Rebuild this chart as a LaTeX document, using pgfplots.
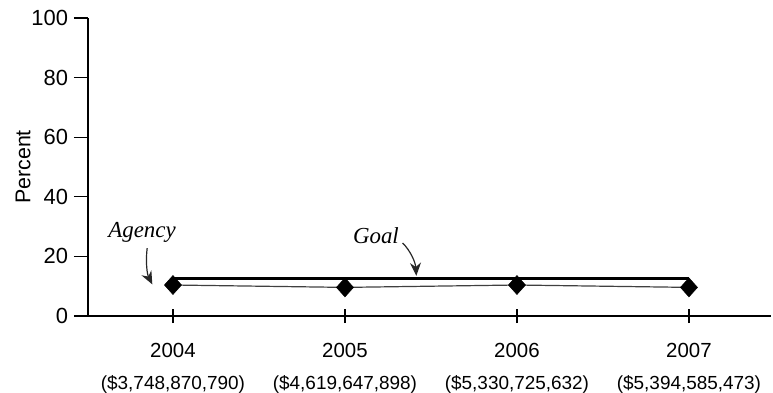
\documentclass[border=0pt]{standalone}
\usepackage{pgfplots}
\pgfplotsset{compat=1.18}
\usepackage{fontspec}
\setmainfont{Liberation Sans}
\newfontfamily\timesfont{Liberation Serif}
\usetikzlibrary{arrows.meta}
\begin{document}
\begin{tikzpicture}
\begin{axis}[
  at={(0,0)}, anchor=south west,
  scale only axis,
  width=683bp, height=298bp,
  xmin=-0.494, xmax=3.477,
  ymin=0, ymax=100,
  axis x line=bottom, axis y line=left,
  axis line style={-, line width=1.5bp, black},
  every tick/.style={black, line width=1.3bp},
  tick align=center,
  major tick length=14bp,
  ytick style={xshift=-7bp},
  xtick={0,1,2,3},
  xticklabels={
    {2004\\{\fontsize{19}{32}\selectfont(\$3,748,870,790)}},
    {2005\\{\fontsize{19}{32}\selectfont(\$4,619,647,898)}},
    {2006\\{\fontsize{19}{32}\selectfont(\$5,330,725,632)}},
    {2007\\{\fontsize{19}{32}\selectfont(\$5,394,585,473)}}},
  xticklabel style={align=center, font=\fontsize{20.5}{32}\selectfont, yshift=-17bp},
  ytick={0,20,40,60,80,100},
  yticklabel style={font=\fontsize{22}{25}\selectfont, xshift=-9.5bp},
  /pgf/number format/assume math mode=true,
  ylabel={Percent},
  ylabel style={font=\fontsize{21.5}{25}\selectfont, yshift=-6bp},
  clip=false,
]
\addplot[black, line width=2.8bp] coordinates {(0,12.6) (1,12.6) (2,12.6) (3,12.6)};
\addplot[black!75, line width=1.2bp, mark=diamond*, mark size=9.5bp,
  mark options={fill=black, draw=black, line width=0.5bp, xscale=1.2}]
  coordinates {(0,10.4) (1,9.6) (2,10.4) (3,9.6)};
\node[font=\timesfont\itshape\fontsize{23}{26}\selectfont] at (axis cs:-0.18,28.2) {Agency};
\node[font=\timesfont\itshape\fontsize{23}{26}\selectfont] at (axis cs:1.18,26.8) {Goal};
\draw[black!85, line width=1.2bp, -{Stealth[length=13bp,width=11bp]}]
  (axis cs:-0.15,22.8) .. controls (axis cs:-0.16,18) and (axis cs:-0.15,14) .. (axis cs:-0.12,10.6);
\draw[black!85, line width=1.2bp, -{Stealth[length=13bp,width=11bp]}]
  (axis cs:1.335,24.5) .. controls (axis cs:1.38,22) and (axis cs:1.41,18) .. (axis cs:1.415,13.5);
\end{axis}
\pgfresetboundingbox
\path[use as bounding box] (-88bp,-77bp) rectangle (685bp,316bp);
\end{tikzpicture}
\end{document}
